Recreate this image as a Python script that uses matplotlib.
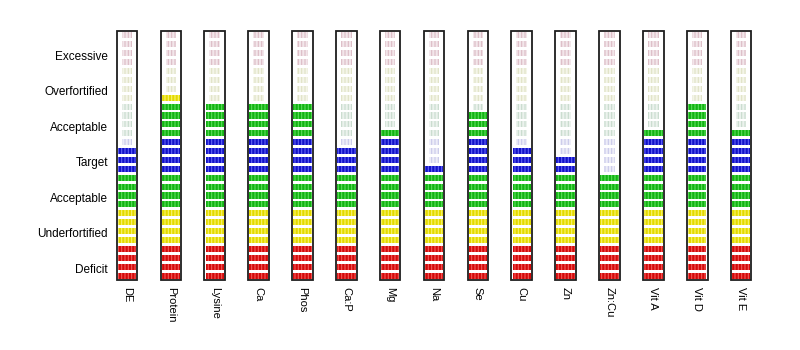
import matplotlib
matplotlib.use("Agg")
import matplotlib.pyplot as plt
from matplotlib.patches import Rectangle

plt.rcParams["font.family"] = ["Liberation Sans", "DejaVu Sans"]
plt.rcParams["hatch.linewidth"] = 0.8

# Nutrients and how many of the 28 level segments each one reaches (from the bottom)
nutrients = ["DE", "Protein", "Lysine", "Ca", "Phos", "Ca:P", "Mg", "Na",
             "Se", "Cu", "Zn", "Zn:Cu", "Vit A", "Vit D", "Vit E"]
levels = [15, 21, 20, 20, 20, 15, 17, 13, 19, 15, 14, 12, 17, 20, 17]

# Rating bands from bottom to top, each made of four segments
zone_labels = ["Deficit", "Underfortified", "Acceptable", "Target",
               "Acceptable", "Overfortified", "Excessive"]
zone_colors = ["red", "yellow", "green", "blue", "green", "yellow", "red"]
segments_per_zone = 4

# (face, stripe) for reached segments and for the unreached ones
solid = {
    "red": ("#d40a0a", "#f25a5a"),
    "yellow": ("#e4da00", "#f8f470"),
    "green": ("#12b412", "#5cdc5c"),
    "blue": ("#1212c8", "#6262f4"),
}
faint = {
    "red": ("#f2e6ea", "#dcbcc6"),
    "yellow": ("#f4f5e8", "#e0e3c6"),
    "green": ("#ebf2ed", "#c8dbcd"),
    "blue": ("#ededf8", "#cacaea"),
}

n_seg = segments_per_zone * len(zone_labels)

fig = plt.figure(figsize=(8, 3.5), dpi=100)
ax = fig.add_axes([112 / 800, 70 / 350, (763 - 112) / 800, 249 / 350])

for i, lev in enumerate(levels):
    for s in range(n_seg):
        key = zone_colors[s // segments_per_zone]
        if s < lev:
            face, stripe = solid[key]
            w = 0.42
        else:
            face, stripe = faint[key]
            w = 0.24
        ax.bar(i, 0.68, width=w, bottom=s + 0.16, color=face,
               edgecolor=stripe, linewidth=0, hatch="|||||", zorder=2)
    ax.add_patch(Rectangle((i - 0.235, 0), 0.47, n_seg, fill=False,
                           edgecolor="#1e1e1e", linewidth=1.3, zorder=3,
                           clip_on=False))

ax.set_xlim(-0.342, 14.5)
ax.set_ylim(0, n_seg)

ax.set_xticks(range(len(nutrients)))
ax.set_xticklabels(nutrients, rotation=270, va="top", ha="center", fontsize=8)
ytick_pos = [z * segments_per_zone + segments_per_zone / 2 - 0.7
             for z in range(len(zone_labels))]
ax.set_yticks(ytick_pos)
ax.set_yticklabels(zone_labels, fontsize=8.5)
ax.tick_params(axis="both", length=0)
ax.tick_params(axis="x", pad=5)
ax.tick_params(axis="y", pad=3)
for sp in ax.spines.values():
    sp.set_visible(False)

fig.savefig("out.png", dpi=100)
